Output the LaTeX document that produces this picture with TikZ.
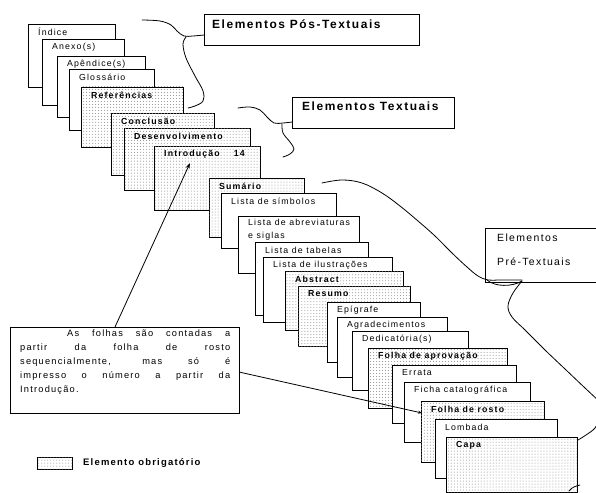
\documentclass[tikz,border=0pt]{standalone}
\usepackage{fontspec}
\setmainfont{Liberation Sans}[LetterSpace=13]
\usetikzlibrary{patterns,arrows.meta,calc}
\newcommand\pgbox[7]{%
  \node[#2, minimum width={(#5-#3)*1bp}, minimum height={(#6-#4)*1bp}] (#1) at (#3,#4) {};
  \node[lbl#2] (#1t) at ($(#1.north west)+(10,8)$) {#7};}
\begin{document}
\begin{tikzpicture}[x=1bp,y=-1bp,
  pgw/.style={draw=black, line width=0.75bp, fill=white, anchor=north west, inner sep=0pt, outer sep=0pt},
  pgs/.style={pgw, postaction={pattern=dots, pattern color=black!45}},
  lblpgw/.style={anchor=west, inner sep=0pt, font=\fontsize{8.8}{9}\selectfont},
  lblpgs/.style={anchor=west, inner sep=0pt, font=\fontsize{8.8}{9}\selectfont\bfseries},
  elbox/.style={draw=black, line width=0.75bp, fill=white, anchor=north west, inner sep=0pt, outer sep=0pt},
  eltxt/.style={anchor=west, inner sep=0pt, font=\fontsize{12}{13}\selectfont\bfseries},
  brace/.style={line width=0.8bp, line cap=round},
  conn/.style={line width=0.8bp}]
\fill[white] (0,0) rectangle (596,493);
\useasboundingbox (0,0) rectangle (596,493);

% upper cluster (post-textual and textual)
\pgbox{indice}{pgw}{28}{24}{115}{87}{Índice}
\pgbox{anexo}{pgw}{42}{39}{124}{105}{Anexo(s)}
\pgbox{apendice}{pgw}{57}{56}{145}{117}{Apêndice(s)}
\pgbox{glossario}{pgw}{69}{69}{154}{130}{Glossário}
\pgbox{referencias}{pgs}{81}{87}{183}{147}{Referências}
\pgbox{conclusao}{pgs}{111}{113}{214}{175}{Conclusão}
\pgbox{desenv}{pgs}{124}{128}{250}{190}{Desenvolvimento}
\pgbox{intro}{pgs}{154}{146}{260}{210}{Introdução\hspace{14bp}14}

% lower cluster (pre-textual)
\pgbox{sumario}{pgs}{209}{178}{304}{237}{Sumário}
\pgbox{simbolos}{pgw}{221}{193}{336}{248}{Lista de símbolos}
\node[pgw, minimum width=121bp, minimum height=57bp] (abrev) at (238,216) {};
\node[anchor=north west, inner sep=0pt, align=left, font=\fontsize{8.8}{13}\selectfont] (abrevt) at ($(abrev.north west)+(10,3)$) {Lista de abreviaturas\\e siglas};
\pgbox{tabelas}{pgw}{255}{242}{368}{315}{Lista de tabelas}
\pgbox{ilustr}{pgw}{263}{257}{392}{322}{Lista de ilustrações}
\pgbox{abstract}{pgs}{285}{271}{403}{330}{Abstract}
\pgbox{resumo}{pgs}{298}{286}{410}{346}{Resumo}
\pgbox{epigrafe}{pgw}{327}{302}{420}{362}{Epígrafe}
\pgbox{agradec}{pgw}{337}{317}{447}{377}{Agradecimentos}
\pgbox{dedic}{pgw}{352}{331}{468}{390}{Dedicatória(s)}
\pgbox{aprov}{pgs}{368}{348}{507}{408}{Folha de aprovação}
\pgbox{errata}{pgw}{392}{365}{516}{423}{Errata}
\pgbox{ficha}{pgw}{404}{382}{530}{442}{Ficha catalográfica}
\pgbox{rosto}{pgs}{421}{401}{544}{462}{Folha de rosto}
\pgbox{lombada}{pgw}{435}{419}{557}{478}{Lombada}
\pgbox{capa}{pgs}{446}{437}{577}{492}{Capa}

% group labels
\node[elbox, minimum width=215bp, minimum height=31bp] (pos) at (204,14) {};
\node[eltxt] (post) at (212,24) {Elementos Pós-Textuais};
\node[elbox, minimum width=162bp, minimum height=31bp] (txt) at (292,97) {};
\node[eltxt] (txtt) at (302,106) {Elementos Textuais};
\node[elbox, minimum width=125bp, minimum height=54bp] (pre) at (485,228) {};
\node[anchor=west, inner sep=0pt, font=\fontsize{10.5}{11}\selectfont] (pret1) at (497,238) {Elementos};
\node[anchor=west, inner sep=0pt, font=\fontsize{10.5}{11}\selectfont] (pret2) at (497,262) {Pré-Textuais};

% braces
\draw[brace] plot[smooth, tension=0.6] coordinates {(142,20) (160,21) (171,25) (177,31) (184,36) (193,36) (204,35)};
\draw[brace] plot[smooth, tension=0.6] coordinates {(186,37) (183,44) (186,58) (195,76) (203,91) (203,101) (195,106) (188,108)};
\draw[brace] plot[smooth, tension=0.6] coordinates {(238,108) (250,107) (260,110) (267,117) (274,123) (283,123) (292,122)};
\draw[brace] plot[smooth, tension=0.6] coordinates {(282,124) (283,133) (290,142) (294,149) (290,154) (283,157)};
\draw[brace] plot[smooth, tension=0.6] coordinates {(322,183) (342,180) (362,183) (382,193) (400,206) (418,221) (435,236) (452,253) (467,267) (478,276) (488,280) (500,280) (522,280)};
\draw[brace] (487,280) .. controls (495,287) and (512,287) .. (522,281);
\draw[brace] plot[smooth, tension=0.6] coordinates {(522,281) (513,293) (508,306) (512,317) (525,330) (545,350) (565,369) (585,388) (600,402)};
\draw[brace] plot[smooth, tension=0.6] coordinates {(600,418) (595,428) (586,435) (578,440)};
\draw[brace] (569,491) .. controls (572,487) and (576,486) .. (580,485);

% note
\node[elbox, minimum width=229bp, minimum height=86bp] (note) at (10,327) {};
\node[anchor=north west, inner sep=0pt, text width=210bp, align=justify, font=\fontsize{9.3}{14}\selectfont] (notet) at (20,330) {\hspace*{47bp}As folhas são contadas a\linebreak partir da folha de rosto\linebreak sequencialmente, mas só é\linebreak impresso o número a partir da\linebreak Introdução.};

% connectors
\coordinate (a1) at ($(note.north west)+(105,0)$);
\coordinate (a2) at ($(intro.north west)+(36,17)$);
\draw[conn, -{Stealth[length=6bp,width=4bp]}] (a1) -- (a2);
\coordinate (b1) at ($(note.north east)+(0,45)$);
\coordinate (b2) at ($(rosto.north west)+(1,12)$);
\draw[conn, -{Stealth[length=4bp,width=3bp]}] (b1) -- (b2);

% legend
\node[pgs, minimum width=35bp, minimum height=12bp] (leg) at (37,457) {};
\node[anchor=west, inner sep=0pt, font=\fontsize{9.5}{10}\selectfont\bfseries] (legt) at (83,463) {Elemento obrigatório};
\end{tikzpicture}
\end{document}
